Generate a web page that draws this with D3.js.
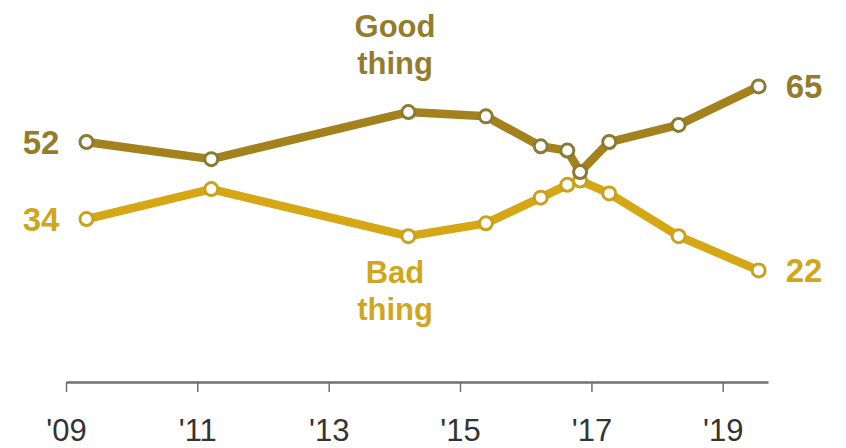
<!DOCTYPE html>
<html>
<head>
<meta charset="utf-8">
<script src="https://cdn.jsdelivr.net/npm/d3@7"></script>
<style>
  html, body { margin: 0; padding: 0; background: #ffffff; }
  svg { display: block; }
</style>
</head>
<body>
<svg id="chart" width="846" height="448"></svg>
<script>
// ---- data ----
const dates = ["2009-04-25", "2011-03-20", "2014-03-20", "2015-05-25", "2016-03-25",
               "2016-08-20", "2016-10-30", "2017-04-10", "2018-05-01", "2019-07-20"];
const goodThing = [52, 48, 59, 58, 51, 50, 45, 52, 56, 65];
const badThing  = [34, 41, 30, 33, 39, 42, 43, 40, 30, 22];
const tickYears = [2009, 2011, 2013, 2015, 2017, 2019];
const tickLabels = ["'09", "'11", "'13", "'15", "'17", "'19"];
const seriesNames = [["Good", "thing"], ["Bad", "thing"]];

// ---- styles ----
const goodColor = "#a3821e", goodDot = "#8c7a33", goodText = "#937c2c";
const badColor = "#d6a714", badDot = "#c9a11d", badText = "#d0a71c";
const parse = d3.timeParse("%Y-%m-%d");

const svg = d3.select("#chart");
const x = d3.scaleTime()
  .domain([new Date(2009, 0, 1), new Date(2019, 8, 10)])
  .range([66, 768]);
const y = d3.scaleLinear().domain([22, 65]).range([270.4, 86.4]);

// axis
const axis = d3.axisBottom(x)
  .tickValues(tickYears.map(yr => new Date(yr, 0, 1)))
  .tickFormat((d, i) => tickLabels[i])
  .tickSize(10)
  .tickSizeOuter(0);
const gAxis = svg.append("g").attr("transform", "translate(0,382)").call(axis);
gAxis.select(".domain").attr("stroke", "#707070").attr("stroke-width", 2.5);
gAxis.selectAll(".tick line").attr("stroke", "#707070").attr("stroke-width", 1.5);
gAxis.selectAll(".tick text")
  .attr("fill", "#333")
  .attr("y", 59)
  .attr("dy", "0")
  .style("font-family", "'Liberation Sans Narrow', 'Liberation Sans', Arial, sans-serif")
  .style("font-size", "31px");

const line = d3.line().x(d => x(parse(d.date))).y(d => y(d.v));
function series(vals) { return dates.map((d, i) => ({ date: d, v: vals[i] })); }

const specs = [
  { vals: badThing, color: badColor, dot: badDot },
  { vals: goodThing, color: goodColor, dot: goodDot }
];
specs.forEach(s => {
  const data = series(s.vals);
  svg.append("path").datum(data)
    .attr("d", line).attr("fill", "none")
    .attr("stroke", s.color).attr("stroke-width", 8.5)
    .attr("stroke-linejoin", "round");
  svg.append("g").selectAll("circle").data(data).join("circle")
    .attr("cx", d => x(parse(d.date))).attr("cy", d => y(d.v))
    .attr("r", 6.5).attr("fill", "#fff")
    .attr("stroke", s.dot).attr("stroke-width", 3);
});

const labelFont = "'Liberation Sans', Arial, sans-serif";
// endpoint values
const endLabels = [
  { vals: goodThing, color: goodText },
  { vals: badThing, color: badText }
];
endLabels.forEach(s => {
  const first = s.vals[0], last = s.vals[s.vals.length - 1];
  svg.append("text")
    .attr("x", x(parse(dates[0])) - 27).attr("y", y(first)).attr("dy", "0.36em")
    .attr("text-anchor", "end").attr("fill", s.color)
    .style("font-family", labelFont).style("font-weight", "bold").style("font-size", "33px")
    .text(first);
  svg.append("text")
    .attr("x", x(parse(dates[dates.length - 1])) + 27).attr("y", y(last)).attr("dy", "0.36em")
    .attr("text-anchor", "start").attr("fill", s.color)
    .style("font-family", labelFont).style("font-weight", "bold").style("font-size", "33px")
    .text(last);
});

// series names
const nameSpecs = [
  { lines: seriesNames[0], color: goodText, baseY: 37 },
  { lines: seriesNames[1], color: badText, baseY: 283 }
];
nameSpecs.forEach(s => {
  const t = svg.append("text")
    .attr("text-anchor", "middle").attr("fill", s.color)
    .style("font-family", labelFont).style("font-weight", "bold").style("font-size", "31px");
  s.lines.forEach((ln, i) => {
    t.append("tspan").attr("x", 395).attr("y", s.baseY + i * 37).text(ln);
  });
});
</script>
</body>
</html>
